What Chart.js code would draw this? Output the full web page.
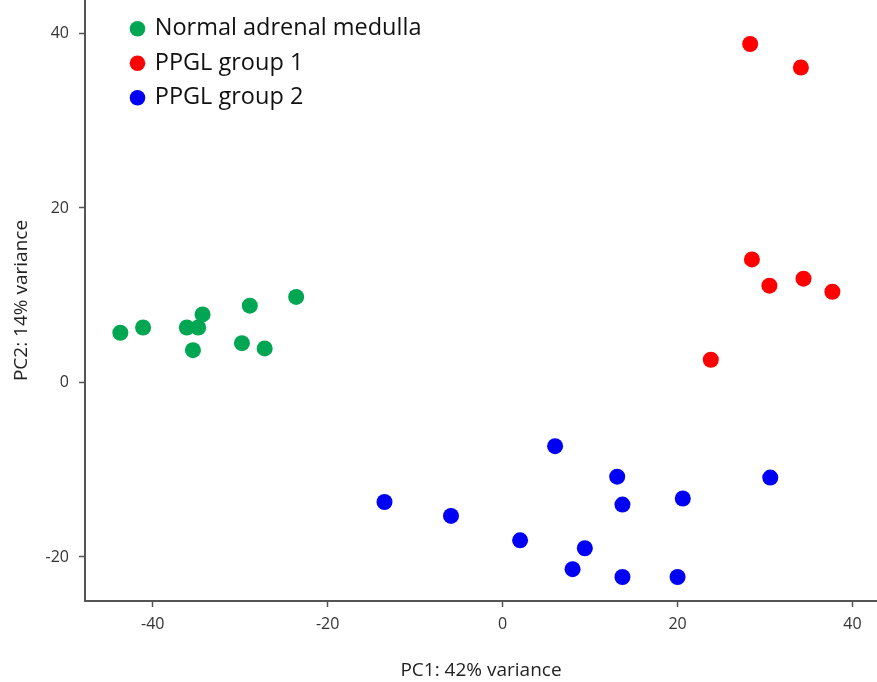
<!DOCTYPE html>
<html>
<head>
<meta charset="utf-8">
<script src="https://cdn.jsdelivr.net/npm/chart.js@4/dist/chart.umd.min.js"></script>
<style>
  html, body { margin: 0; padding: 0; background: #ffffff; }
  #wrap { width: 877px; height: 682px; }
</style>
</head>
<body>
<div id="wrap"><canvas id="c" width="877" height="682"></canvas></div>
<script>
// ---- Data ----
const seriesNames = ['Normal adrenal medulla', 'PPGL group 1', 'PPGL group 2'];

const normalX = [-43.7, -41.1, -36.1, -34.8, -34.3, -35.4, -28.9, -23.6, -29.8, -27.2];
const normalY = [5.7, 6.3, 6.3, 6.3, 7.8, 3.7, 8.8, 9.8, 4.5, 3.9];

const group1X = [28.3, 34.1, 28.5, 30.5, 34.4, 37.7, 23.8];
const group1Y = [38.8, 36.1, 14.1, 11.1, 11.9, 10.4, 2.6];

const group2X = [-13.5, -5.9, 2.0, 6.0, 8.0, 9.4, 13.1, 13.7, 13.7, 20.6, 20.0, 30.6];
const group2Y = [-13.7, -15.3, -18.1, -7.3, -21.4, -19.0, -10.8, -14.0, -22.3, -13.3, -22.3, -10.9];

const xTicks = [-40, -20, 0, 20, 40];
const yTicks = [-20, 0, 20, 40];

const xTitle = 'PC1: 42% variance';
const yTitle = 'PC2: 14% variance';

// ---- Build ----
function pts(xs, ys) { return xs.map((x, i) => ({ x: x, y: ys[i] })); }

const colors = ['#00a651', '#ff0000', '#0000f5'];
const FONT = '"Open Sans", Lato, sans-serif';

const legendShift = {
  id: 'legendShift',
  afterLayout(chart) {
    const lg = chart.legend;
    if (!lg) return;
    const dx = 36, dy = 6;
    lg.left += dx; lg.right += dx; lg.top += dy; lg.bottom += dy;
    if (lg.legendHitBoxes) lg.legendHitBoxes.forEach(h => { h.left += dx; h.top += dy; });
  }
};

function noPad(s) { s.paddingTop = 0; s.paddingBottom = 0; s.paddingLeft = 0; s.paddingRight = 0; }

new Chart(document.getElementById('c'), {
  type: 'scatter',
  data: {
    datasets: [
      { label: seriesNames[0], data: pts(normalX, normalY), backgroundColor: colors[0], borderColor: colors[0] },
      { label: seriesNames[1], data: pts(group1X, group1Y), backgroundColor: colors[1], borderColor: colors[1] },
      { label: seriesNames[2], data: pts(group2X, group2Y), backgroundColor: colors[2], borderColor: colors[2] }
    ]
  },
  options: {
    responsive: false,
    animation: false,
    devicePixelRatio: 1,
    layout: { padding: 0, autoPadding: false },
    elements: { point: { radius: 8, borderWidth: 0, hoverRadius: 8 } },
    plugins: {
      tooltip: { enabled: false },
      legend: {
        position: 'chartArea',
        align: 'start',
        labels: {
          usePointStyle: true,
          pointStyle: 'circle',
          boxWidth: 11,
          boxHeight: 11,
          padding: 11,
          color: '#111111',
          font: { family: FONT, size: 23.5 }
        }
      }
    },
    scales: {
      x: {
        type: 'linear',
        min: -47.74,
        max: 42.8,
        afterBuildTicks: (s) => { s.ticks = xTicks.map(v => ({ value: v })); },
        afterFit: (s) => { s.height = 81; noPad(s); },
        grid: { display: true, drawOnChartArea: false, drawTicks: true, tickLength: 6, color: '#555555', tickWidth: 1.5 },
        border: { display: true, color: '#555555', width: 2 },
        ticks: { color: '#333333', padding: 8, font: { family: FONT, size: 16 }, maxRotation: 0 },
        title: { display: true, text: xTitle, color: '#222222', font: { family: FONT, size: 19 }, padding: { top: 0, bottom: 0 } }
      },
      y: {
        type: 'linear',
        min: -25.05,
        max: 43.84,
        afterBuildTicks: (s) => { s.ticks = yTicks.map(v => ({ value: v })); },
        afterFit: (s) => { s.width = 85; noPad(s); },
        grid: { display: true, drawOnChartArea: false, drawTicks: true, tickLength: 6, color: '#555555', tickWidth: 1.5 },
        border: { display: true, color: '#555555', width: 2 },
        ticks: { color: '#333333', padding: 10, font: { family: FONT, size: 16 } },
        title: { display: true, text: yTitle, color: '#222222', font: { family: FONT, size: 19 }, padding: { top: 10, bottom: 0 } }
      }
    }
  },
  plugins: [legendShift]
});
</script>
</body>
</html>
